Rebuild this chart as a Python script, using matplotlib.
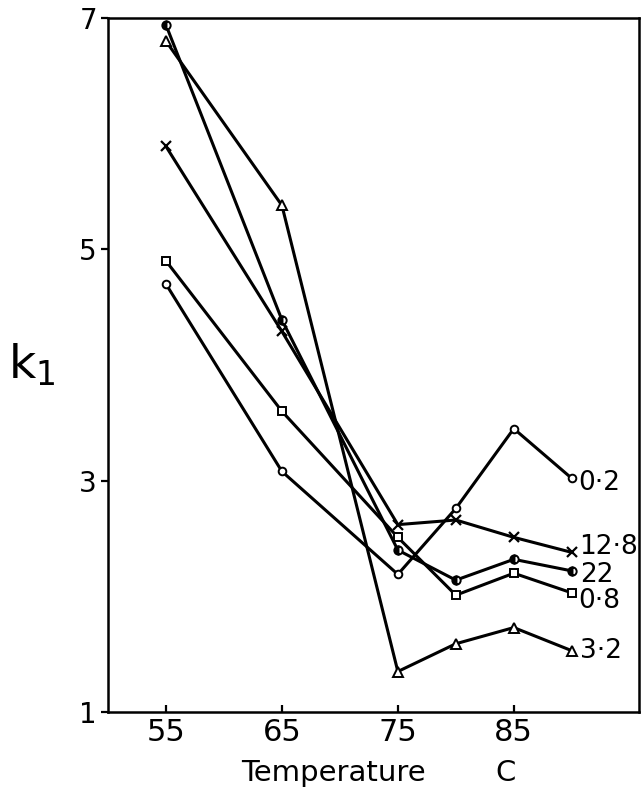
import matplotlib
matplotlib.use("Agg")
import matplotlib.pyplot as plt

# temperatures (C) and k1 values, one list per series
temps = [55, 65, 75, 80, 85, 90]
k_02 = [4.70, 3.08, 2.19, 2.76, 3.45, 3.02]
k_128 = [5.89, 4.29, 2.62, 2.66, 2.51, 2.38]
k_22 = [6.94, 4.39, 2.40, 2.14, 2.32, 2.22]
k_08 = [4.90, 3.60, 2.51, 2.01, 2.20, 2.03]
k_32 = [6.80, 5.38, 1.35, 1.59, 1.73, 1.53]

series_labels = ["0\u00b72", "12\u00b78", "22", "0\u00b78", "3\u00b72"]
xticks = [55, 65, 75, 85]
yticks = [1, 3, 5, 7]

fig = plt.figure(figsize=(6.41, 7.87), dpi=100)
ax = fig.add_axes([0.1685, 0.0953, 0.8284, 0.8818])

styles = [
    dict(marker="o", ms=5.5, mfc="white"),
    dict(marker="x", ms=7, mew=1.6),
    dict(marker="o", ms=6, fillstyle="left", mfc="black", mfcalt="white"),
    dict(marker="s", ms=6, mfc="white"),
    dict(marker="^", ms=6.5, mfc="white"),
]
offsets = [(5, -3), (5, 4), (6, -3), (5, -6), (6, 0)]

for ys, lab, st, off in zip([k_02, k_128, k_22, k_08, k_32], series_labels, styles, offsets):
    ax.plot(temps, ys, color="black", lw=2.2, mec="black", mew=st.pop("mew", 1.4), **st)
    ax.annotate(lab, (temps[-1], ys[-1]), xytext=off, textcoords="offset points",
                ha="left", va="center", fontsize=19)

ax.set_xlim(50, 95.8)
ax.set_ylim(1, 7)
ax.set_xticks(xticks)
ax.set_yticks(yticks)
ax.tick_params(axis="x", direction="in", length=5, width=1.6, labelsize=22, pad=4)
ax.tick_params(axis="y", direction="out", length=5, width=1.6, labelsize=20, pad=3)
for sp in ax.spines.values():
    sp.set_linewidth(1.8)

# axis title: "Temperature" and the unit "C" sit apart in the original
ax.text(0.425, -0.068, "Temperature", transform=ax.transAxes, ha="center", va="top",
        fontsize=21)
ax.text(0.748, -0.068, "C", transform=ax.transAxes, ha="center", va="top", fontsize=21)
ax.set_ylabel("k$_{\\mathregular{1}}$", fontsize=34, rotation=0, labelpad=34, va="center")

fig.savefig("out.png", dpi=100)
plt.close(fig)
